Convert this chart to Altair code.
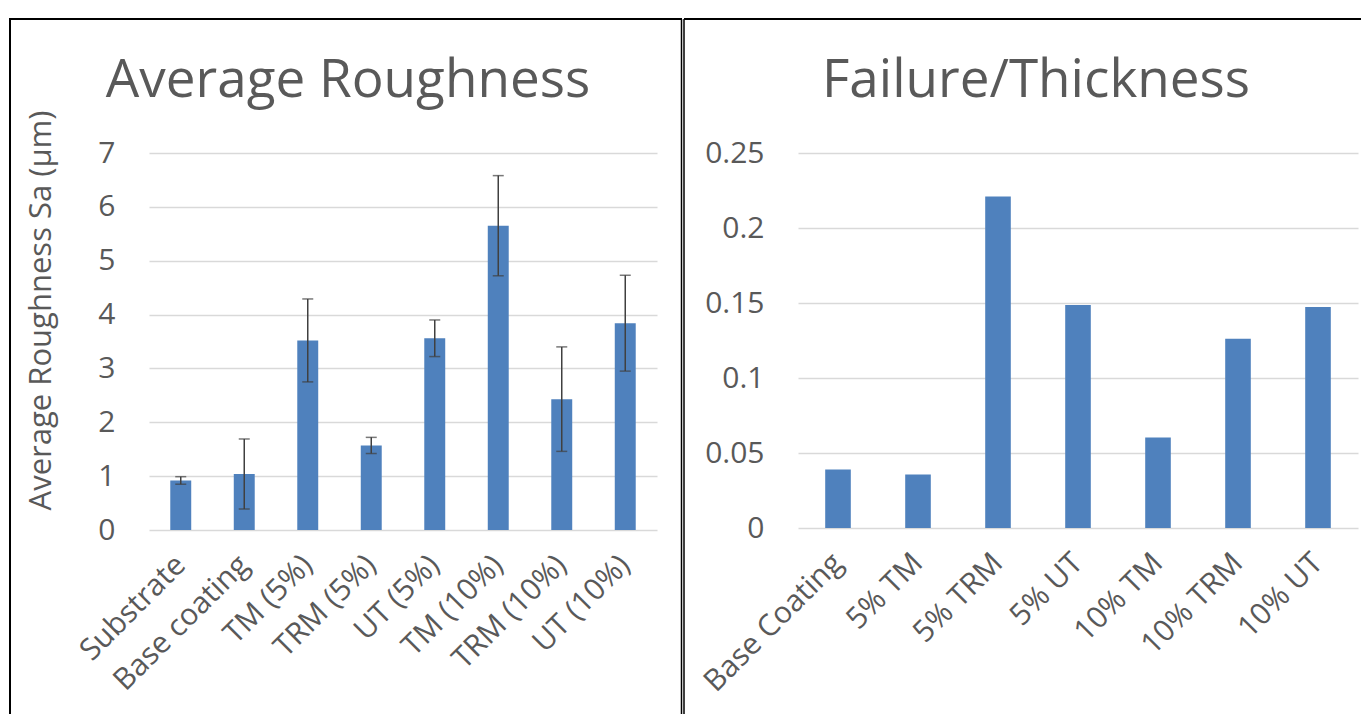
import altair as alt
import pandas as pd

# ---------------- data ----------------
rough_cats = ["Substrate", "Base coating", "TM (5%)", "TRM (5%)", "UT (5%)",
              "TM (10%)", "TRM (10%)", "UT (10%)"]
rough_vals = [0.92, 1.04, 3.52, 1.57, 3.56, 5.65, 2.43, 3.84]
rough_err = [0.07, 0.65, 0.77, 0.15, 0.34, 0.93, 0.97, 0.89]

ft_cats = ["Base Coating", "5% TM", "5% TRM", "5% UT", "10% TM", "10% TRM", "10% UT"]
ft_vals = [0.039, 0.0356, 0.221, 0.1486, 0.0603, 0.1261, 0.1473]

rough_ticks = [0, 1, 2, 3, 4, 5, 6, 7]
ft_ticks = [0, 0.05, 0.1, 0.15, 0.2, 0.25]

title_left = "Average Roughness"
title_right = "Failure/Thickness"
ytitle_left = "Average Roughness Sa (μm)"

# ---------------- style ----------------
FONT = "Open Sans"
TXT = "#595959"
BAR = "#4f81bd"
GRID = "#d9d9d9"
ERR = "#404040"

df1 = pd.DataFrame({"cat": rough_cats, "val": rough_vals, "err": rough_err})
df1["lo"] = df1["val"] - df1["err"]
df1["hi"] = df1["val"] + df1["err"]
df2 = pd.DataFrame({"cat": ft_cats, "val": ft_vals})
one = pd.DataFrame({"k": [0]})

W1, H1 = 508, 377
W2, H2 = 560, 375
TOP = -134
BOT = 575


def xaxis(pad):
    return alt.Axis(title=None, labelAngle=-45, labelAlign="right", labelBaseline="middle",
                    labelFontSize=30, labelPadding=pad, labelLimit=400, grid=False,
                    ticks=False, domain=False, labelColor=TXT, labelFont=FONT)


def title_mark(text, xpos):
    return alt.Chart(one).mark_text(font=FONT, fontSize=53, color=TXT, align="center",
                                    baseline="alphabetic").encode(
        x=alt.value(xpos), y=alt.value(-56), text=alt.value(text))


# ---------- left panel ----------
x1 = alt.X("cat:N", sort=rough_cats,
           scale=alt.Scale(paddingInner=0.67, paddingOuter=0.335), axis=xaxis(30))
y1 = alt.Y("val:Q", scale=alt.Scale(domain=[0, 7], nice=False),
           axis=alt.Axis(values=rough_ticks, format="d", title=ytitle_left,
                         titleFontSize=31, titleFontWeight="normal", titleColor=TXT,
                         titleAngle=270, titleX=-108, titleY=157, titleAlign="center",
                         titleBaseline="middle", labelFontSize=30, labelPadding=34,
                         grid=True, ticks=False, domain=False))

bars1 = alt.Chart(df1).mark_bar(color=BAR).encode(x=x1, y=y1)
rule1 = alt.Chart(df1).mark_rule(color=ERR, strokeWidth=1.5).encode(
    x=alt.X("cat:N", sort=rough_cats), y=alt.Y("lo:Q", title=ytitle_left), y2="hi:Q")
caphi = alt.Chart(df1).mark_tick(color=ERR, thickness=1.5, size=11).encode(
    x=alt.X("cat:N", sort=rough_cats), y=alt.Y("hi:Q", title=ytitle_left))
caplo = alt.Chart(df1).mark_tick(color=ERR, thickness=1.5, size=11).encode(
    x=alt.X("cat:N", sort=rough_cats), y=alt.Y("lo:Q", title=ytitle_left))

b1_left = alt.Chart(one).mark_rule(color="black", strokeWidth=2).encode(
    x=alt.value(-139), y=alt.value(TOP), y2=alt.value(BOT))
b1_top = alt.Chart(one).mark_rule(color="black", strokeWidth=2).encode(
    x=alt.value(-140), x2=alt.value(533), y=alt.value(TOP))
b1_right = alt.Chart(one).mark_rule(color="black", strokeWidth=1.5).encode(
    x=alt.value(532.5), y=alt.value(TOP), y2=alt.value(BOT))

left = alt.layer(bars1, rule1, caphi, caplo, b1_left, b1_top, b1_right,
                 title_mark(title_left, 199)).properties(width=W1, height=H1)

# ---------- right panel ----------
x2 = alt.X("cat:N", sort=ft_cats,
           scale=alt.Scale(paddingInner=0.68, paddingOuter=0.34), axis=xaxis(30))
y2 = alt.Y("val:Q", scale=alt.Scale(domain=[0, 0.25], nice=False),
           axis=alt.Axis(values=ft_ticks, format="~g", title=None,
                         labelFontSize=30, labelPadding=34,
                         grid=True, ticks=False, domain=False))
bars2 = alt.Chart(df2).mark_bar(color=BAR).encode(x=x2, y=y2)

b2_left = alt.Chart(one).mark_rule(color="black", strokeWidth=1.5).encode(
    x=alt.value(-114), y=alt.value(TOP), y2=alt.value(BOT))
b2_top = alt.Chart(one).mark_rule(color="black", strokeWidth=2).encode(
    x=alt.value(-114), x2=alt.value(563), y=alt.value(TOP))

right = alt.layer(bars2, b2_left, b2_top,
                  title_mark(title_right, 238)).properties(width=W2, height=H2)

chart = alt.hconcat(left, right, spacing=141, bounds="flush").properties(
    padding={"left": 0, "top": 10, "right": 0, "bottom": 0},
    background="white"
).configure_view(stroke=None).configure_axis(
    labelFont=FONT, titleFont=FONT, labelColor=TXT, titleColor=TXT,
    gridColor=GRID, gridWidth=1.3
)

chart.save("out.html", embed_options={"renderer": "svg", "actions": False})
